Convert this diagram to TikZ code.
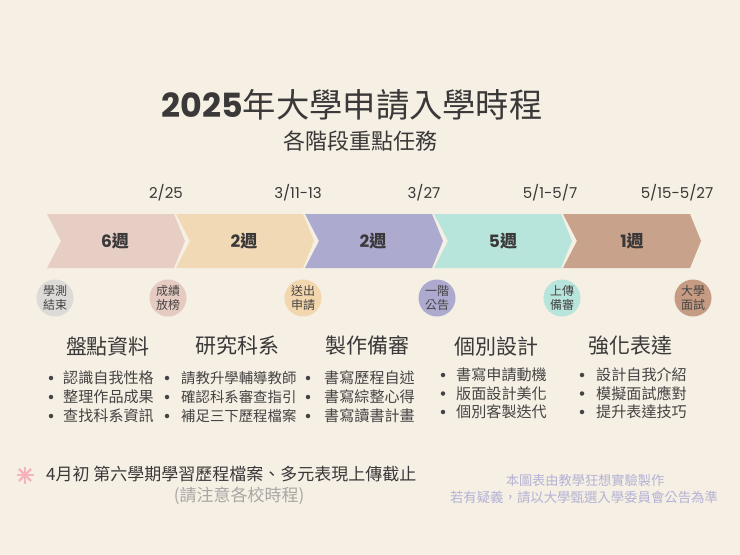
\documentclass[tikz,border=0pt]{standalone}
\usepackage{fontspec}
\setmainfont{Poppins}
\newfontfamily\cjk{Noto Sans CJK TC}
\usetikzlibrary{calc}
\definecolor{bg}{HTML}{F5EFE4}
\definecolor{ink}{HTML}{3A3838}
\definecolor{body}{HTML}{454343}
\definecolor{cA}{HTML}{E7CEC5}
\definecolor{cB}{HTML}{F1D9B5}
\definecolor{cC}{HTML}{ADAACF}
\definecolor{cD}{HTML}{B8E5DB}
\definecolor{cE}{HTML}{C9A28C}
\definecolor{gA}{HTML}{DDDBD8}
\definecolor{gB}{HTML}{E6CBC2}
\definecolor{gC}{HTML}{F2D6AE}
\definecolor{gD}{HTML}{ADA9CF}
\definecolor{gE}{HTML}{B8E5DB}
\definecolor{gF}{HTML}{C59B83}
\definecolor{star}{HTML}{F7B3BD}
\definecolor{note}{HTML}{A9A7A5}
\definecolor{credit}{HTML}{B5B2D6}
\newcommand\mychev[2]{\fill[#2] (#1,214) -- ++(127,0) -- ++(11,27) -- ++(-11,27) -- ++(-127,0) -- ++(14,-27) -- cycle;}
\tikzset{
  datelbl/.style={font=\fontsize{15}{18}\selectfont, text=ink},
  weeklbl/.style={font=\fontsize{17}{20}\selectfont\bfseries, text=ink},
  milestone/.style={circle, minimum size=37pt, inner sep=0pt, align=center,
     font=\cjk\fontsize{12}{13.5}\selectfont, text=body},
  heading/.style={font=\cjk\fontsize{21}{24}\selectfont, text=ink},
  item/.style={anchor=west, font=\cjk\fontsize{15.1}{18}\selectfont, text=body, inner sep=0pt},
  itemn/.style={item, font=\cjk\fontsize{14.4}{18}\selectfont},
  bdot/.style={circle, fill=body, inner sep=0pt, minimum size=4.5pt},
}
\begin{document}
\begin{tikzpicture}[x=1pt,y=-1pt]
\fill[bg] (0,0) rectangle (740,555);
\useasboundingbox (0,0) rectangle (740,555);

% title
\node[font=\fontsize{33.3}{38}\selectfont, text=ink] (title) at (352,105)
  {{\bfseries 2025}{\cjk 年大學申請入學時程}};
\node[font=\cjk\fontsize{22}{26}\selectfont, text=ink] (subtitle) at (360,141) {各階段重點任務};

% dates
\node[datelbl] (d1) at (166,193) {2/25};
\node[datelbl] (d2) at (298,193) {3/11-13};
\node[datelbl] (d3) at (424,193) {3/27};
\node[datelbl] (d4) at (550,193) {5/1-5/7};
\node[datelbl] (d5) at (677,193) {5/15-5/27};

% chevrons
\mychev{47}{cA}
\mychev{176}{cB}
\mychev{305}{cC}
\mychev{434}{cD}
\mychev{563}{cE}
\node[weeklbl] (w1) at (115,241) {6{\cjk\bfseries 週}};
\node[weeklbl] (w2) at (244,241) {2{\cjk\bfseries 週}};
\node[weeklbl] (w3) at (373,241) {2{\cjk\bfseries 週}};
\node[weeklbl] (w4) at (503,241) {5{\cjk\bfseries 週}};
\node[weeklbl] (w5) at (632,241) {1{\cjk\bfseries 週}};

% milestones
\node[milestone, fill=gA] (m1) at (55,298) {學測\\結束};
\node[milestone, fill=gB] (m2) at (168,298) {成績\\放榜};
\node[milestone, fill=gC] (m3) at (303,298) {送出\\申請};
\node[milestone, fill=gD] (m4) at (437,298) {一階\\公告};
\node[milestone, fill=gE] (m5) at (562,298) {上傳\\備審};
\node[milestone, fill=gF] (m6) at (693,298) {大學\\面試};

% headings
\node[heading] (h1) at (108,346) {盤點資料};
\node[heading] (h2) at (237,346) {研究科系};
\node[heading] (h3) at (367,346) {製作備審};
\node[heading] (h4) at (496,346) {個別設計};
\node[heading] (h5) at (630,346) {強化表達};

% column 1
\node[bdot] (p11) at (51,378) {}; \node[item] (t11) at (63,378) {認識自我性格};
\node[bdot] (p12) at (51,397) {}; \node[item] (t12) at (63,397) {整理作品成果};
\node[bdot] (p13) at (51,416) {}; \node[item] (t13) at (63,416) {查找科系資訊};
% column 2
\node[bdot] (p21) at (167,378) {}; \node[itemn] (t21) at (181,378) {請教升學輔導教師};
\node[bdot] (p22) at (167,397) {}; \node[itemn] (t22) at (181,397) {確認科系審查指引};
\node[bdot] (p23) at (167,416) {}; \node[itemn] (t23) at (181,416) {補足三下歷程檔案};
% column 3
\node[bdot] (p31) at (308,378) {}; \node[item] (t31) at (324,378) {書寫歷程自述};
\node[bdot] (p32) at (308,397) {}; \node[item] (t32) at (324,397) {書寫綜整心得};
\node[bdot] (p33) at (308,416) {}; \node[item] (t33) at (324,416) {書寫讀書計畫};
% column 4
\node[bdot] (p41) at (443,375) {}; \node[item] (t41) at (456,375) {書寫申請動機};
\node[bdot] (p42) at (443,393.5) {}; \node[item] (t42) at (456,393.5) {版面設計美化};
\node[bdot] (p43) at (443,412) {}; \node[item] (t43) at (456,412) {個別客製迭代};
% column 5
\node[bdot] (p51) at (582,375) {}; \node[item] (t51) at (596,375) {設計自我介紹};
\node[bdot] (p52) at (582,393.5) {}; \node[item] (t52) at (596,393.5) {模擬面試應對};
\node[bdot] (p53) at (582,412) {}; \node[item] (t53) at (596,412) {提升表達技巧};

% footer
\coordinate (st) at (25,475);
\foreach \a in {0,45,90,135}
  \draw[star, line width=2.4pt] ($(st)+(\a:8.5)$) -- ($(st)+(\a+180:8.5)$);
\node[anchor=west, font=\cjk\fontsize{17}{20}\selectfont, text=ink, inner sep=0pt] (foot) at (46,474)
  {4月初 第六學期學習歷程檔案、多元表現上傳截止};
\node[font=\cjk\fontsize{17}{20}\selectfont, text=note] (foot2) at (239,496) {(請注意各校時程)};
\node[font=\cjk\fontsize{13.2}{15}\selectfont, text=credit] (cr1) at (585,480) {本圖表由教學狂想實驗製作};
\node[font=\cjk\fontsize{13.4}{15}\selectfont, text=credit] (cr2) at (584,497) {若有疑義，請以大學甄選入學委員會公告為準};
\end{tikzpicture}
\end{document}
